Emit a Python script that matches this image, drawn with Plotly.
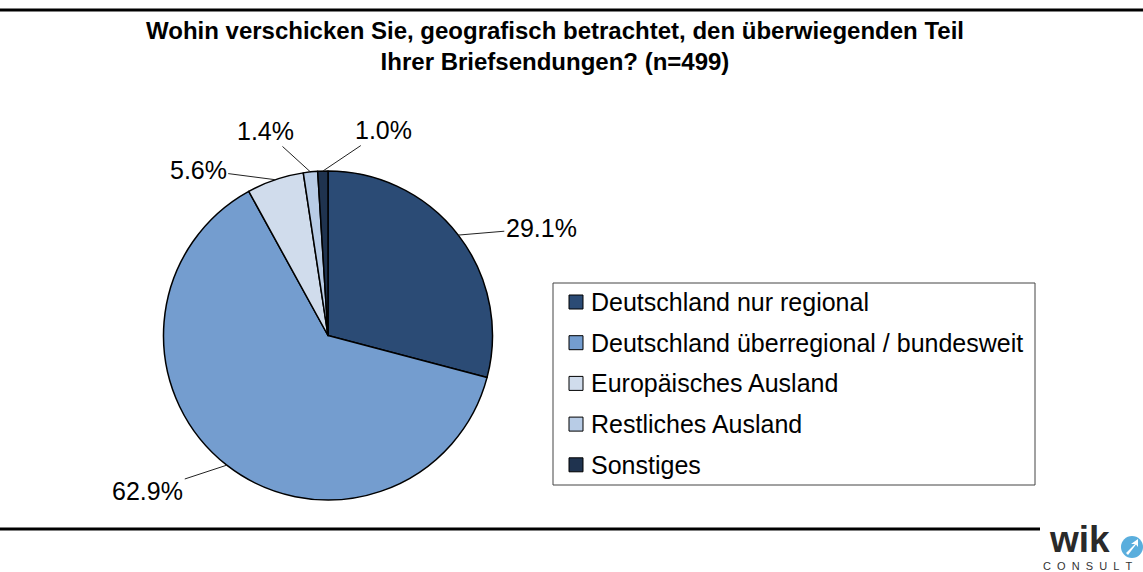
import math
import plotly.graph_objects as go

# ---- data ----
categories = ["Deutschland nur regional", "Deutschland überregional / bundesweit",
              "Europäisches Ausland", "Restliches Ausland", "Sonstiges"]
shares = [29.1, 62.9, 5.6, 1.4, 1.0]
title_text = "Wohin verschicken Sie, geografisch betrachtet, den überwiegenden Teil<br>Ihrer Briefsendungen? (n=499)"

# ---- styles ----
colors = ["#2B4B75", "#749DCF", "#D0DCEC", "#B8CCE6", "#1F334F"]
label_offsets = [(83, -7), (-79, 26), (-77, -10), (-45, -41), (61, -41)]  # pixel offsets of labels
W, H = 1143, 572
CX, CY, R = 328, 335.5, 164.5
FONT = "Liberation Sans, Arial, sans-serif"


def px(x):
    return x / W


def py(y):
    return 1 - y / H


fig = go.Figure()
fig.add_trace(go.Pie(
    labels=categories, values=shares, sort=False, direction="clockwise", rotation=0,
    marker=dict(colors=colors, line=dict(color="black", width=1.5)),
    textinfo="none", hoverinfo="label+percent", showlegend=False,
    domain=dict(x=[px(CX - R), px(CX + R)], y=[py(CY + R), py(CY - R)]),
))

annotations = []
shapes = []

# value labels with leader lines, anchored on the slice mid-angle
total = sum(shares)
cum = 0.0
for v, (ox, oy) in zip(shares, label_offsets):
    mid = (cum + v / 2) / total * 2 * math.pi
    cum += v
    ex = CX + R * math.sin(mid)
    ey = CY - R * math.cos(mid)
    annotations.append(dict(
        x=px(ex), y=py(ey), xref="paper", yref="paper",
        text=f"{v:.1f}%", showarrow=True, ax=ox, ay=oy,
        arrowhead=0, arrowwidth=1, arrowcolor="#222", standoff=0,
        font=dict(family=FONT, size=25, color="black"),
    ))

# manual legend
LX0, LY0, LX1, LY1 = 553, 283, 1035, 485
shapes.append(dict(type="rect", xref="paper", yref="paper",
                   x0=px(LX0), x1=px(LX1), y0=py(LY1), y1=py(LY0),
                   line=dict(color="#444", width=1), fillcolor="white"))
row_h = 40.7
for i, (name, col) in enumerate(zip(categories, colors)):
    yc = 302 + i * row_h
    shapes.append(dict(type="rect", xref="paper", yref="paper",
                       x0=px(569), x1=px(583), y0=py(yc + 7), y1=py(yc - 7),
                       line=dict(color="black", width=1), fillcolor=col))
    annotations.append(dict(x=px(589), y=py(yc), xref="paper", yref="paper",
                            text=name, showarrow=False, xanchor="left", yanchor="middle",
                            font=dict(family=FONT, size=25, color="black")))

# title
annotations.append(dict(x=px(555), y=py(46), xref="paper", yref="paper", text="<b>" + title_text + "</b>",
                        showarrow=False, xanchor="center", yanchor="middle",
                        font=dict(family=FONT, size=24, color="black")))

# rules
shapes.append(dict(type="line", xref="paper", yref="paper", x0=0, x1=1, y0=py(10), y1=py(10),
                   line=dict(color="black", width=3)))
shapes.append(dict(type="line", xref="paper", yref="paper", x0=0, x1=px(1040), y0=py(529), y1=py(529),
                   line=dict(color="black", width=3)))

# logo
annotations.append(dict(x=px(1079), y=py(539), xref="paper", yref="paper", text="<b>wik</b>",
                        showarrow=False, xanchor="center", yanchor="middle",
                        font=dict(family=FONT, size=37, color="#2a2a2a")))
shapes.append(dict(type="circle", xref="paper", yref="paper", x0=px(1121), x1=px(1143),
                   y0=py(558), y1=py(536), line=dict(width=0), fillcolor="#5AAEDD"))
# white arrow in the logo icon
ax_pts = [(1126, 553), (1135, 544), (1131, 544), (1138, 539), (1138, 547), (1136, 544.5), (1128, 555)]
path = "M " + " L ".join(f"{px(a)} {py(b)}" for a, b in ax_pts) + " Z"
shapes.append(dict(type="path", xref="paper", yref="paper", path=path,
                   line=dict(width=0), fillcolor="white"))
annotations.append(dict(x=px(1041), y=py(566), xref="paper", yref="paper",
                        text="C&nbsp;&nbsp;O&nbsp;&nbsp;N&nbsp;&nbsp;S&nbsp;&nbsp;U&nbsp;&nbsp;L&nbsp;&nbsp;T",
                        showarrow=False, xanchor="left", yanchor="middle",
                        font=dict(family=FONT, size=11, color="#333")))

fig.update_layout(
    width=W, height=H, margin=dict(l=0, r=0, t=0, b=0),
    paper_bgcolor="white", plot_bgcolor="white",
    annotations=annotations, shapes=shapes, showlegend=False,
)
fig.write_html("out.html", config={"displayModeBar": False},
               post_script="document.body.style.margin='0px';")
